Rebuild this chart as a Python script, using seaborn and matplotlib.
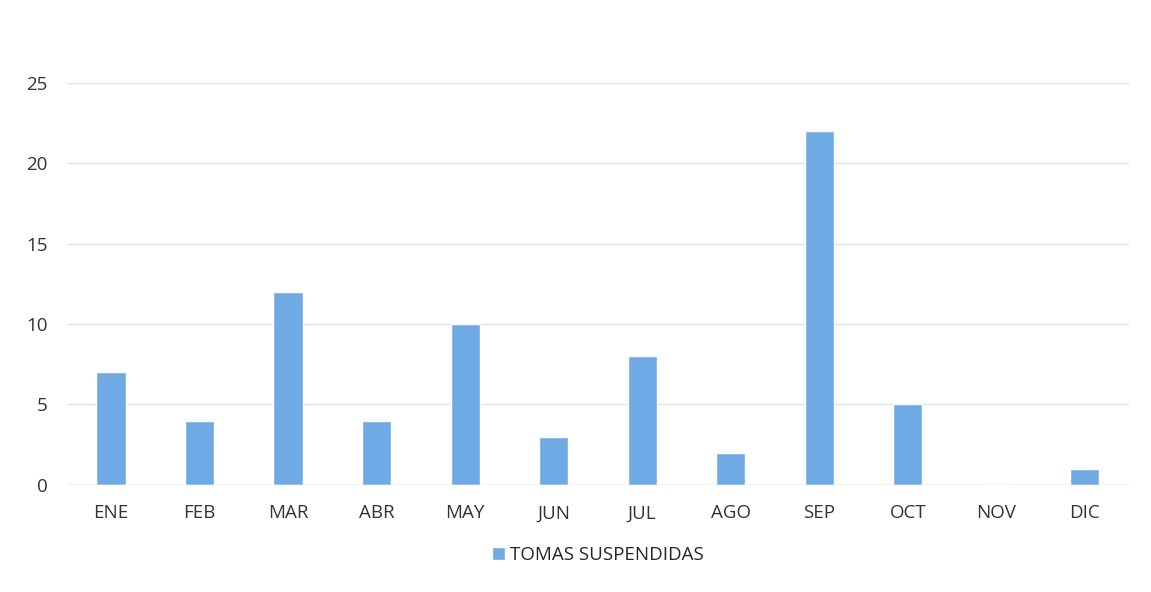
import matplotlib
matplotlib.use("Agg")
import matplotlib.pyplot as plt
import seaborn as sns
import pandas as pd

# datos
meses = ["ENE", "FEB", "MAR", "ABR", "MAY", "JUN", "JUL", "AGO", "SEP", "OCT", "NOV", "DIC"]
tomas = [7, 4, 12, 4, 10, 3, 8, 2, 22, 5, 0, 1]
serie = "TOMAS SUSPENDIDAS"

df = pd.DataFrame({"mes": meses, "tomas": tomas})

sns.set_style("white")
plt.rcParams["font.family"] = ["Open Sans", "DejaVu Sans"]

fig = plt.figure(figsize=(11.51, 5.92), dpi=100)
ax = fig.add_axes([0.058, 0.181, 0.923, 0.679])

sns.barplot(data=df, x="mes", y="tomas", color="#6FAAE4", width=0.33,
            saturation=1, label=serie, ax=ax)

ax.set_ylim(0, 25)
ax.set_yticks([0, 5, 10, 15, 20, 25])
ax.yaxis.grid(True, color="#E3E3E3", linewidth=1)
ax.set_axisbelow(True)
for s in ax.spines.values():
    s.set_visible(False)
ax.axhline(0, color="#DADADA", linewidth=1)
ax.set_xlabel("")
ax.set_ylabel("")
ax.tick_params(axis="both", length=0, labelsize=13.5, colors="#333333")
ax.tick_params(axis="x", pad=14)
ax.tick_params(axis="y", pad=14)

ax.legend(loc="upper center", bbox_to_anchor=(0.5, -0.11), frameon=False,
          fontsize=13.5, handlelength=0.7, handleheight=0.7, handletextpad=0.3)

fig.savefig("out.png", dpi=100)
